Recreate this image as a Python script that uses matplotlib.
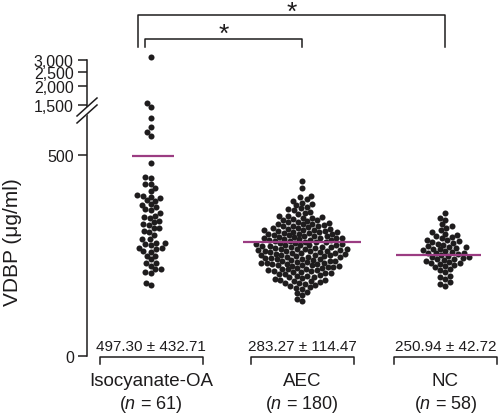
import numpy as np
import matplotlib
matplotlib.use("Agg")
import matplotlib.pyplot as plt
from matplotlib.patches import Polygon
from matplotlib.lines import Line2D

plt.rcParams['font.family'] = ['Liberation Sans', 'DejaVu Sans']
plt.rcParams['mathtext.fontset'] = 'custom'
plt.rcParams['mathtext.it'] = 'Liberation Sans:italic'
plt.rcParams['mathtext.rm'] = 'Liberation Sans'

# ---- data (µg/ml) ----
groups = ["Isocyanate-OA", "AEC", "NC"]
n_labels = [61, 180, 58]
means = [497.30, 283.27, 250.94]
sds = [432.71, 114.47, 42.72]

iso_vals = [3150, 1547, 1320, 592, 570, 557, 547, 480, 443, 445, 428, 428,
            410, 418, 398, 396, 388, 393, 376, 378, 386, 371, 363, 346, 343,
            348, 328, 333, 326, 318, 318, 308, 291, 281, 276, 279, 281, 269,
            269, 266, 259, 249, 249, 231, 224, 231, 209, 216, 206, 177, 182,
            300, 355, 240, 290, 260, 335, 400, 215, 365, 310]

aec_vals = [436,
            417,
            398, 394, 389, 386,
            381, 377, 375, 370, 367, 364,
            362, 358, 356, 352, 349, 347, 345,
            344, 343, 341, 339, 337, 336, 334, 332, 331, 329, 328,
            327, 326, 324, 323, 322, 320, 319, 317, 316, 315, 314, 313, 312, 311,
            310, 309, 308, 307, 306, 305, 304, 303, 302, 301, 300, 299, 298, 297,
            296, 295,
            294, 293, 293, 292, 291, 290, 289, 288, 287, 286, 285, 284, 283, 282,
            281, 280, 279, 278,
            277, 276, 276, 275, 274, 273, 272, 271, 270, 269, 268, 267, 266, 266,
            265, 264, 263, 262, 262, 261,
            260, 259, 258, 257, 256, 255, 254, 253, 252, 252, 251, 250, 249, 248,
            247, 246, 245, 244,
            243, 242, 241, 240, 239, 238, 237, 236, 235, 234, 233, 232, 231, 230,
            229, 229, 228,
            227, 226, 225, 224, 223, 221, 220, 219, 218, 217, 216, 215, 214, 213,
            212,
            211, 209, 208, 206, 205, 204, 203, 201, 200, 199, 197, 196,
            194, 192, 190, 189, 187, 186, 184, 182, 181,
            179, 177, 175, 172, 170, 167,
            160, 156, 152,
            141, 136]

nc_vals = [356,
           343, 338,
           327, 322, 318,
           312, 308, 304, 300,
           298, 295, 292, 289, 287, 285,
           283, 281, 279, 276, 274, 272, 270,
           269, 267, 265, 263, 261, 259, 257, 256, 255,
           253, 251, 249, 247, 245, 243, 242, 240, 239,
           237, 234, 232, 230, 228, 226, 224,
           220, 216, 213, 209,
           200, 196, 192,
           183, 179, 175]

all_vals = [iso_vals, aec_vals, nc_vals]
yticks = [0, 500, 1500, 2000, 2500, 3000]
ytick_labels = ["0", "500", "1,500", "2,000", "2,500", "3,000"]

# ---- layout ----
W, H = 498, 414
PX_X = 151.0            # pixels per x unit
xpos = [0.0, 1.0, 1.95]
dark = "#1e1c1d"
mag = "#9b3c82"


def fwd(v):
    v = np.asarray(v, dtype=float)
    lo = v * 0.4025
    mid = 241.5 + (v - 600) / 900 * 9.5
    hi = 251 + 149.5 * np.log10(np.clip(v, 1e-9, None) / 1500)
    return np.where(v <= 600, lo, np.where(v < 1500, mid, hi))


def inv(p):
    p = np.asarray(p, dtype=float)
    lo = p / 0.4025
    mid = 600 + (p - 241.5) / 9.5 * 900
    hi = 1500 * 10 ** ((p - 251) / 149.5)
    return np.where(p <= 241.5, lo, np.where(p < 251, mid, hi))


def swarm(ypx, d):
    ypx = np.asarray(ypx, dtype=float)
    xs = np.zeros(len(ypx))
    placed = []
    for i in np.argsort(ypx):
        y = ypx[i]
        near = [(px, py) for px, py in placed if abs(py - y) < d]
        cands = [0.0]
        for px, py in near:
            dx = np.sqrt(d * d - (py - y) ** 2)
            cands += [px - dx, px + dx]
        cands.sort(key=lambda c: (abs(c), c))
        for c in cands:
            if all((c - px) ** 2 + (y - py) ** 2 >= d * d - 1e-6 for px, py in near):
                xs[i] = c
                break
        placed.append((xs[i], y))
    return xs


fig = plt.figure(figsize=(W / 100, H / 100), dpi=100)
ax = fig.add_axes([87 / W, 57 / H, 411 / W, 296 / H])
ax.set_yscale('function', functions=(fwd, inv))
ax.set_ylim(0, 3000)
ax.set_xlim(-64 / PX_X, 347 / PX_X)

for k, vals in enumerate(all_vals):
    offs = swarm(fwd(vals), 5.7) / PX_X
    ax.scatter(xpos[k] + offs, vals, s=19, color=dark, linewidths=0,
               clip_on=False, zorder=3)

# mean lines
line_w = [42, 118, 85]
line_shift = [2, 0, -7]
for k, m in enumerate(means):
    c = xpos[k] + line_shift[k] / PX_X
    hw = line_w[k] / 2 / PX_X
    ax.plot([c - hw, c + hw], [m, m], color=mag, lw=1.6, zorder=4,
            solid_capstyle='butt')

# axis styling
for s in ['top', 'right', 'bottom']:
    ax.spines[s].set_visible(False)
ax.spines['left'].set_linewidth(1.1)
ax.spines['left'].set_color(dark)
ax.set_yticks(yticks)
ax.set_yticklabels(ytick_labels)
ax.yaxis.set_minor_locator(matplotlib.ticker.NullLocator())
ax.tick_params(axis='y', length=6.5, width=1.1, pad=3, labelsize=11.5,
               colors=dark)
ax.set_xticks([])

xt = ax.get_xaxis_transform()
# mean ± sd labels and bottom brackets, group labels
for k in range(3):
    ax.text(xpos[k], (357 - 351) / 296, f"{means[k]:.2f} ± {sds[k]:.2f}",
            transform=xt, ha='center', va='baseline', fontsize=11, color=dark)
    hw = 51.5 / PX_X
    yb0, yb1 = -1 / 296, -8 / 296
    ax.plot([xpos[k] - hw, xpos[k] - hw, xpos[k] + hw, xpos[k] + hw],
            [yb1, yb0, yb0, yb1], transform=xt, color=dark, lw=1.1,
            clip_on=False)
    ax.text(xpos[k], -(386 - 357) / 296, groups[k], transform=xt,
            ha='center', va='baseline', fontsize=13.5, color=dark)
    ax.text(xpos[k], -(409 - 357) / 296, f"($n$ = {n_labels[k]})",
            transform=xt, ha='center', va='baseline', fontsize=13,
            color=dark)

# significance brackets
brackets = [(-13 / PX_X, xpos[2], 16, 20), (-6 / PX_X, xpos[1], 40, 42)]
for x0, x1, ytop, ystar in brackets:
    yt = (357 - ytop) / 296
    yl = (357 - 48) / 296
    ax.plot([x0, x0, x1, x1], [yl, yt, yt, yl], transform=xt, color=dark,
            lw=1.1, clip_on=False)
    ax.text((x0 + x1) / 2, (357 - ystar) / 296, "*", transform=xt,
            ha='center', va='baseline', fontsize=19, color=dark)

# y label
fig.text(13 / W, 1 - 242 / H, "VDBP (μg/ml)", rotation=90, ha='center',
         va='center', fontsize=15, color=dark)


# axis break marks (pixel coords)
def P(x, y):
    return (x / W, 1 - y / H)


gap = Polygon([P(77, 117), P(97, 99), P(97, 107), P(77, 125)],
              closed=True, transform=fig.transFigure, facecolor='white',
              edgecolor='none', zorder=10)
fig.patches.append(gap)
for yc in (108, 115):
    fig.lines.append(Line2D([77 / W, 97 / W], [1 - (yc + 9) / H, 1 - (yc - 9) / H],
                            transform=fig.transFigure, color=dark, lw=1.1,
                            zorder=11))

fig.savefig("out.png", dpi=100)
